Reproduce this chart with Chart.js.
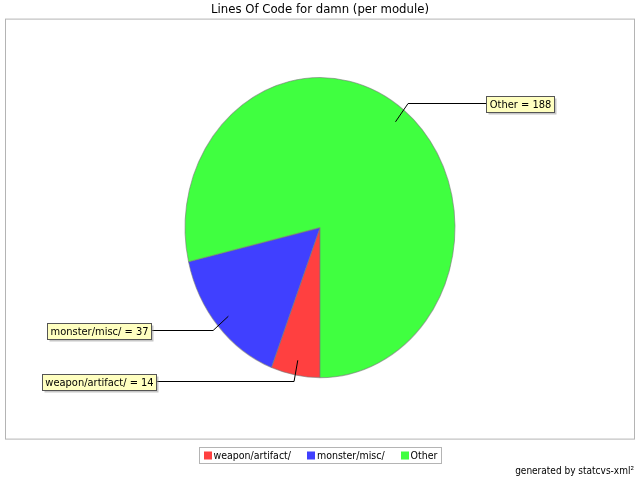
<!DOCTYPE html>
<html>
<head>
<meta charset="utf-8">
<script src="https://cdn.jsdelivr.net/npm/chart.js@4/dist/chart.umd.min.js"></script>
<style>
  html, body { margin: 0; padding: 0; background: #fff; }
  #wrap { width: 640px; height: 480px; }
</style>
</head>
<body>
<div id="wrap"><canvas id="chartLoc"></canvas></div>
<script>
// datos: lineas de codigo por modulo
const modulos = ['weapon/artifact/', 'monster/misc/', 'Other'];
const lineas  = [14, 37, 188];
const colores = ['#ff4040', '#4040ff', '#40ff40'];

const FUENTE = '"DejaVu Sans Condensed", "DejaVu Sans", sans-serif';
const RADIO = 135;
const ESCALA_Y = 150 / 135;   // el pie original es una elipse

// marco gris del area del grafico
const marco = {
  id: 'marco',
  beforeDatasetsDraw(chart) {
    const {ctx, chartArea: ca} = chart;
    ctx.save();
    ctx.strokeStyle = '#b4b4b4';
    ctx.lineWidth = 1;
    ctx.strokeRect(ca.left - 0.5, ca.top + 1.5, ca.right - ca.left + 1, ca.bottom - ca.top);
    ctx.restore();
  }
};

// estira el pie en vertical y dibuja las etiquetas con su linea
const elipse = {
  id: 'elipse',
  beforeDatasetsDraw(chart) {
    const {ctx, chartArea: ca} = chart;
    const cx = (ca.left + ca.right) / 2, cy = (ca.top + ca.bottom) / 2;
    ctx.save();
    ctx.translate(cx, cy);
    ctx.scale(1, ESCALA_Y);
    ctx.translate(-cx, -cy);
  },
  afterDatasetsDraw(chart) {
    const ctx = chart.ctx;
    ctx.restore();
    const meta = chart.getDatasetMeta(0);
    ctx.save();
    ctx.font = '11px ' + FUENTE;
    ctx.textBaseline = 'middle';
    ctx.textAlign = 'center';
    meta.data.forEach((arc, i) => {
      const mid = (arc.startAngle + arc.endAngle) / 2;
      const r = arc.outerRadius;
      const c = Math.cos(mid), s = Math.sin(mid);
      const ax = arc.x + c * r * 0.9,  ay = arc.y + s * r * 0.9 * ESCALA_Y;
      const bx = arc.x + c * r * 1.05, by = Math.round(arc.y + s * r * 1.05 * ESCALA_Y) - 0.5;
      const texto = modulos[i] + ' = ' + lineas[i];
      const w = Math.round(ctx.measureText(texto).width + 6), h = 16;
      const derecha = c > 0;
      const colX = derecha ? arc.x + 200 : arc.x - 221;
      const izq = Math.round(colX - w / 2) + 0.5, arriba = Math.round(by - h / 2);
      const fin = derecha ? izq : izq + w;

      ctx.strokeStyle = '#000';
      ctx.lineWidth = 1;
      ctx.beginPath();
      ctx.moveTo(ax, ay);
      ctx.lineTo(bx, by);
      ctx.lineTo(fin, by);
      ctx.stroke();

      ctx.fillStyle = 'rgba(151,151,151,0.55)';
      ctx.fillRect(izq + 2, arriba + 2.5, w, h);
      ctx.fillStyle = '#ffffc0';
      ctx.fillRect(izq, arriba + 0.5, w, h);
      ctx.strokeStyle = '#555';
      ctx.strokeRect(izq, arriba + 0.5, w, h);
      ctx.fillStyle = '#000';
      ctx.fillText(texto, izq + w / 2, arriba + h / 2 + 1);
    });
    ctx.restore();
  }
};

// leyenda con recuadro, como la original
const leyenda = {
  id: 'leyenda',
  afterDraw(chart) {
    const {ctx, chartArea: ca} = chart;
    const cx = (ca.left + ca.right) / 2;
    ctx.save();
    ctx.font = '10.5px ' + FUENTE;
    ctx.textBaseline = 'middle';
    const caja = 8, hueco = 2, sep = 16, pad = 4;
    const anchos = modulos.map(m => ctx.measureText(m).width);
    let total = pad * 2;
    anchos.forEach((a, i) => { total += caja + hueco + a + (i < anchos.length - 1 ? sep : 0); });
    const top = Math.round(ca.bottom + 9) + 0.5, h = 16;
    let x = Math.round(cx - total / 2) + 0.5;
    ctx.strokeStyle = '#b4b4b4';
    ctx.strokeRect(x, top, Math.round(total), h);
    x += pad;
    modulos.forEach((m, i) => {
      ctx.fillStyle = colores[i];
      ctx.fillRect(Math.round(x), top + 4, caja, caja);
      ctx.fillStyle = '#000';
      ctx.fillText(m, x + caja + hueco, top + h / 2 + 0.5);
      x += caja + hueco + anchos[i] + sep;
    });
    ctx.restore();
  }
};

new Chart(document.getElementById('chartLoc'), {
  type: 'pie',
  data: {
    labels: modulos,
    datasets: [{
      data: lineas,
      backgroundColor: colores,
      borderColor: 'rgba(120,120,120,0.6)',
      borderWidth: 1,
      radius: RADIO,
      hoverOffset: 0
    }]
  },
  options: {
    responsive: true,
    maintainAspectRatio: false,
    animation: false,
    rotation: 180,
    layout: {padding: {left: 6, right: 6, top: 0, bottom: 0}},
    plugins: {
      legend: {display: false},
      tooltip: {enabled: false},
      title: {
        display: true,
        text: 'Lines Of Code for damn (per module)',
        color: '#000',
        font: {family: FUENTE, size: 13, weight: 'normal'},
        padding: {top: 2, bottom: 0}
      },
      subtitle: {
        display: true,
        position: 'bottom',
        align: 'end',
        text: 'generated by statcvs-xml\u00b2',
        color: '#000',
        font: {family: FUENTE, size: 10, weight: 'normal'},
        padding: {top: 27.4, bottom: 3}
      }
    }
  },
  plugins: [marco, elipse, leyenda]
});
</script>
</body>
</html>
